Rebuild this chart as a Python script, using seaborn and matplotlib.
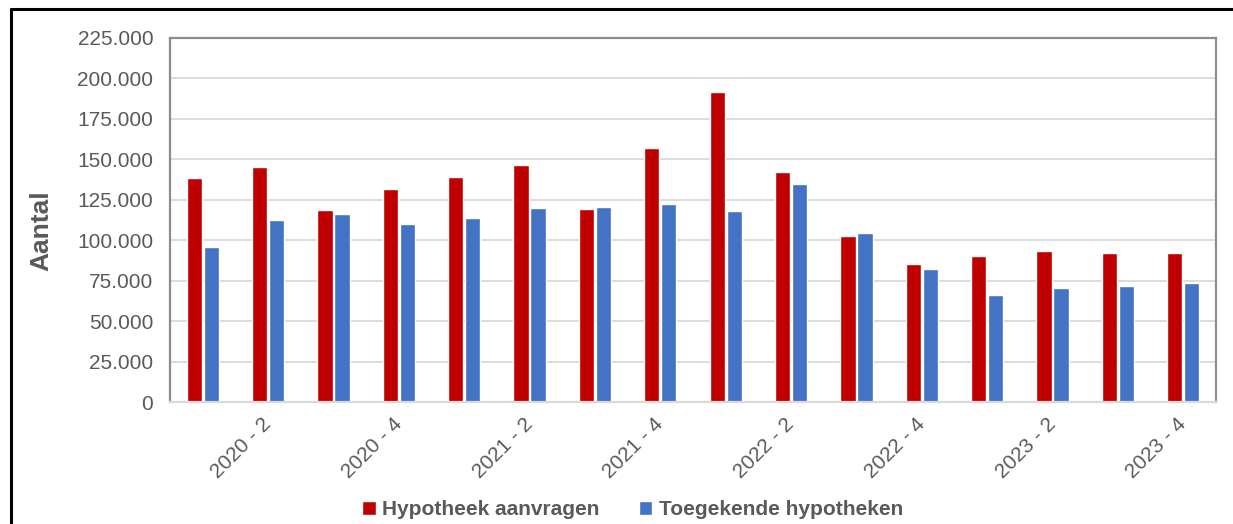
import pandas as pd
import seaborn as sns
import matplotlib.pyplot as plt
from matplotlib.patches import Patch
from matplotlib.lines import Line2D
from matplotlib.ticker import FuncFormatter

# kwartalen 2020-1 t/m 2023-4
kwartalen = [f"{j} - {k}" for j in range(2020, 2024) for k in range(1, 5)]

aanvragen = [138300, 145500, 118500, 131900, 138900, 146400, 119100, 156700,
             191600, 142200, 102600, 85100, 90000, 93100, 92300, 92300]
toegekend = [95600, 112300, 116000, 109800, 113700, 120100, 120700, 122600,
             117900, 134600, 104300, 82000, 66300, 70200, 71800, 73300]

series = ["Hypotheek aanvragen", "Toegekende hypotheken"]
kleuren = ["#C00000", "#4472C4"]
grijs = "#595959"

df = pd.DataFrame({
    "kwartaal": kwartalen * 2,
    "aantal": aanvragen + toegekend,
    "serie": [series[0]] * len(kwartalen) + [series[1]] * len(kwartalen),
})

sns.set_style("white")
plt.rcParams["font.family"] = ["Liberation Sans", "DejaVu Sans"]

fig = plt.figure(figsize=(12.33, 5.24), dpi=100)
ax = fig.add_axes([0.1379, 0.2328, 0.8483, 0.6947])

sns.barplot(data=df, x="kwartaal", y="aantal", hue="serie", order=kwartalen,
            hue_order=series, palette=kleuren, width=0.52, gap=0.1,
            saturation=1, legend=False, ax=ax)

ax.set_ylim(0, 225000)
ax.set_xlim(-0.5, len(kwartalen) - 0.5)
ax.set_yticks(range(0, 225001, 25000))
ax.yaxis.set_major_formatter(FuncFormatter(lambda v, p: f"{int(v):,}".replace(",", ".")))
ax.yaxis.grid(True, color="#D9D9D9", linewidth=1.3)
ax.set_axisbelow(True)

# alleen even kwartalen labelen
pos = list(range(1, len(kwartalen), 2))
ax.set_xticks(pos)
ax.set_xticklabels([kwartalen[i] for i in pos], rotation=45, ha="right",
                   rotation_mode="anchor", va="center")
ax.tick_params(axis="x", length=0, pad=14, labelsize=15, labelcolor=grijs)
ax.tick_params(axis="y", length=0, pad=12, labelsize=15, labelcolor=grijs)

ax.set_xlabel("")
ax.set_ylabel("Aantal", fontsize=19, fontweight="bold", color=grijs)
ax.yaxis.set_label_coords(-0.112, 0.47)

for s in ["left", "top", "right"]:
    ax.spines[s].set_color("#8C8C8C")
    ax.spines[s].set_linewidth(1.6)
ax.spines["bottom"].set_color("#D9D9D9")
ax.spines["bottom"].set_linewidth(1.6)

handles = [Patch(facecolor=c, label=l) for c, l in zip(kleuren, series)]
leg = fig.legend(handles=handles, loc="center", bbox_to_anchor=(0.513, 0.027),
                 ncol=2, frameon=False, handlelength=0.65, handleheight=0.65,
                 handletextpad=0.3, columnspacing=1.9,
                 prop={"size": 15, "weight": "bold"})
for t in leg.get_texts():
    t.set_color(grijs)

# zwarte rand links en boven
fig.add_artist(Line2D([0.0089, 0.0089], [0, 0.983], color="black", linewidth=2.2))
fig.add_artist(Line2D([0.0089, 1], [0.983, 0.983], color="black", linewidth=2.2))

fig.savefig("out.png", dpi=100)
